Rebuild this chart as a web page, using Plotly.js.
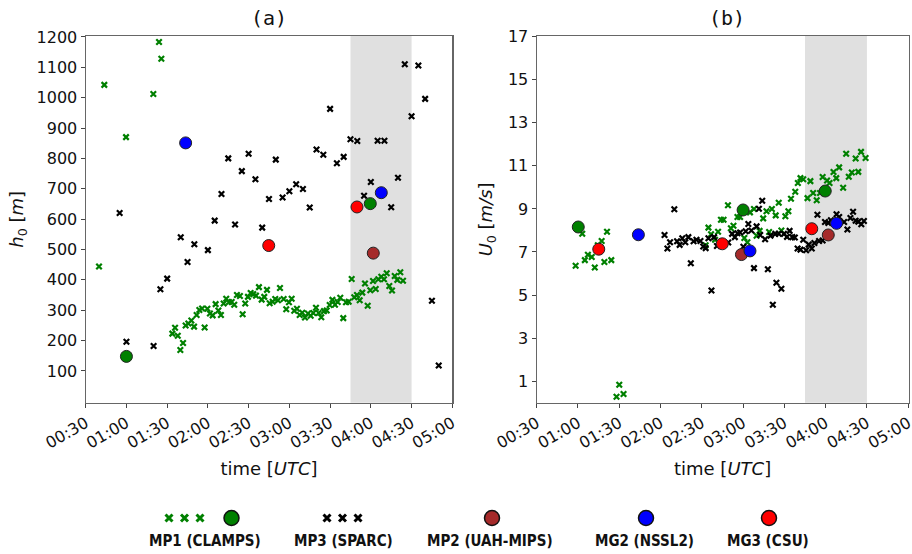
<!DOCTYPE html>
<html>
<head>
<meta charset="utf-8">
<script src="https://cdn.plot.ly/plotly-3.0.1.min.js"></script>
<style>html,body{margin:0;padding:0;background:#fff;}#chart{width:912px;height:554px;}</style>
</head>
<body>
<div id="chart"></div>
<script>
// ---------- axis ticks ----------
const tickMinutes = [30, 60, 90, 120, 150, 180, 210, 240, 270, 300];
const tickLabels = ['00:30','01:00','01:30','02:00','02:30','03:00','03:30','04:00','04:30','05:00'];
const hTicks = [100,200,300,400,500,600,700,800,900,1000,1100,1200];
const uTicks = [1,3,5,7,9,11,13,15,17];
const shadeStart = 225, shadeEnd = 270; // 03:45 - 04:30 (minutes after 00:00 UTC)

// ---------- panel (a): h0 [m] ; times in minutes after 00:00 UTC ----------
const mp1_h_t = [39.8,43.7,59.7,79.8,84,85.7,
  93.8,95.8,97.8,99.7,101.7,103.6,105.6,107.8,109.8,111.7,113.7,115.7,117.6,119.6,121.5,123.5,125.7,127.7,129.6,131.6,133.5,135.5,137.5,139.4,
  141.4,143.6,145.6,147.5,149.5,151.5,153.4,155.4,157.6,159.6,161.5,163.5,165.5,167.7,169.6,171.6,173.1,175.8,177.7,179.7,181.7,183.6,185.6,187.6,
  189.5,191.5,193.7,195.7,197.6,199.6,201.6,203.5,205.5,207.5,209.7,211.7,213.6,215.6,217.5,219.7,221.7,223.7,225.9,227.8,229.8,231.8,233.7,235.7,
  237.7,239.6,241.6,243.6,245.5,247.7,249.7,251.7,253.6,255.6,257.6,259.5,261.7,263.7];
const mp1_h = [444,1042,870,1012,1183,1128,
  223,242,216,169,192,250,256,266,246,284,301,306,243,305,289,283,320,299,284,322,338,327,327,318,
  350,347,287,322,344,357,353,348,376,335,344,367,323,328,337,333,373,337,303,326,338,298,305,284,
  292,276,289,282,291,308,291,277,297,299,317,334,318,327,341,274,326,328,403,343,350,333,358,388,
  315,366,396,370,402,410,402,422,380,365,413,400,425,397];

const mp3_h_t = [55,60,80,85,90,100,105,110,120,125,130,135,140,145,150,155,160,165,170,175,180,185,190,195,
  200,205,210,215,220,225,230,235,240,245,250,255,260,265,270,275,280,285,290];
const mp3_h = [620,196,182,369,404,540,459,517,498,595,683,800,582,758,815,731,572,666,796,671,692,715,699,638,
  829,812,963,784,805,863,857,677,722,858,858,639,736,1110,939,1106,996,331,118];

const mp1dot_h_t = [60, 239.6];   const mp1dot_h = [148, 651];
const mp2dot_h_t = [241.8];       const mp2dot_h = [488];
const mg2dot_h_t = [103.6, 247.7]; const mg2dot_h = [851, 687];
const mg3dot_h_t = [164.8, 229.8]; const mg3dot_h = [513, 640];

// ---------- panel (b): U0 [m/s] ----------
const mp1_u_t = [58.3,63.1,65,67.2,70,72.2,74.4,77.2,79.2,81.1,84.2,88,90,93.1,
  152.8,154.8,156.7,159.6,161.8,163.9,165.8,169,171.1,173,175.9,177.8,180.9,183.1,185,187.9,189.8,192,194.6,197,198.9,200.9,
  203.7,205.9,207.8,210.7,212.9,214.8,217.9,219.8,221.7,223.7,226.8,228.9,230.9,233.5,235.9,237.8,241,242.8,245.7,247.7,
  249.8,252.7,254.9,256.8,259,261.8,263.7,265.7,269];
const mp1_u = [6.36,7.85,6.62,6.87,6.77,6.28,7.31,7.51,6.53,7.94,6.62,0.28,0.83,0.4,
  7.31,8.13,7.82,7.57,7.94,8.5,8.5,9.17,8.1,8.22,8.62,8.62,7.65,7.45,8.84,9.0,7.75,7.98,8.56,8.89,7.93,9.0,
  8.7,9.29,8.0,8.66,8.89,9.47,9.8,10.2,10.43,10.38,9.5,10.29,9.74,9.4,9.74,10.48,10.32,10.2,10.71,10.43,
  10.93,9.98,11.56,10.49,10.69,11.34,10.72,11.65,11.36];

const mp3_u_t = [122.9,125,126.9,130,132,133.9,135.8,138,140.2,142,144,146.1,149,151,152.8,154.8,157,158.9,161,164.1,
  169.2,172,174,175.9,177.8,180.2,181.9,183.8,186,187.9,189.8,191.5,192.4,193.9,196,198,199.9,201.6,203.4,204.2,205.9,207.8,
  209.7,211.9,213.8,215.8,217.6,219.6,221.7,223.7,225.8,227.7,229.9,231.8,234,235.2,237.8,239.5,241.9,243.8,247.9,249.8,
  253.4,255.8,258,259.9,261.8,263.7,265.9,267.8];
const mp3_u = [7.79,7.16,7.45,8.98,7.5,7.33,7.64,7.45,7.69,6.48,7.5,7.57,7.51,7.25,7.18,7.64,5.21,7.69,7.28,7.34,
  7.44,7.84,7.69,7.87,7.9,7.24,7.96,8.3,8.0,6.25,8.19,9.01,7.79,9.38,7.59,6.2,7.76,4.55,7.84,5.57,7.85,5.29,
  7.84,7.7,7.98,7.69,7.67,7.16,7.11,7.57,7.08,7.34,7.16,7.42,8.73,7.51,7.53,8.39,8.35,8.47,8.75,8.62,
  8.39,8.04,8.58,8.87,8.45,8.41,8.29,8.44];

const mp1dot_u_t = [60.2, 180, 239.7];   const mp1dot_u = [8.16, 8.95, 9.83];
const mp2dot_u_t = [178.8, 241.9];       const mp2dot_u = [6.88, 7.79];
const mg2dot_u_t = [103.9, 185, 247.9];  const mg2dot_u = [7.8, 7.05, 8.33];
const mg3dot_u_t = [75.1, 164.9, 229.9]; const mg3dot_u = [7.13, 7.38, 8.08];

// ---------- legend ----------
const legendNames = ['MP1 (CLAMPS)', 'MP3 (SPARC)', 'MP2 (UAH-MIPS)', 'MG2 (NSSL2)', 'MG3 (CSU)'];

// ---------- styles ----------
const GREEN = '#008000', BLACK = '#000000', BROWN = '#a52a2a', BLUE = '#0000ff', RED = '#ff0000';
const xMark = c => ({symbol: 'x-thin', size: 5.5, color: c, line: {color: c, width: 2.2}});
const dot = c => ({symbol: 'circle', size: 12, color: c, line: {color: '#222', width: 1}});

function xs(t, y, c, xa, ya) { return {type: 'scatter', mode: 'markers', x: t, y: y, xaxis: xa, yaxis: ya, marker: xMark(c), showlegend: false, hoverinfo: 'skip'}; }
function ds(t, y, c, xa, ya) { return {type: 'scatter', mode: 'markers', x: t, y: y, xaxis: xa, yaxis: ya, marker: dot(c), showlegend: false, hoverinfo: 'skip', cliponaxis: false}; }

const data = [
  xs(mp1_h_t, mp1_h, GREEN, 'x', 'y'),
  xs(mp3_h_t, mp3_h, BLACK, 'x', 'y'),
  ds(mp1dot_h_t, mp1dot_h, GREEN, 'x', 'y'),
  ds(mp2dot_h_t, mp2dot_h, BROWN, 'x', 'y'),
  ds(mg2dot_h_t, mg2dot_h, BLUE, 'x', 'y'),
  ds(mg3dot_h_t, mg3dot_h, RED, 'x', 'y'),
  xs(mp1_u_t, mp1_u, GREEN, 'x2', 'y2'),
  xs(mp3_u_t, mp3_u, BLACK, 'x2', 'y2'),
  ds(mp1dot_u_t, mp1dot_u, GREEN, 'x2', 'y2'),
  ds(mp2dot_u_t, mp2dot_u, BROWN, 'x2', 'y2'),
  ds(mg2dot_u_t, mg2dot_u, BLUE, 'x2', 'y2'),
  ds(mg3dot_u_t, mg3dot_u, RED, 'x2', 'y2'),
];

// legend sample markers on a hidden pixel-space axis (x3/y3)
const legX = {mp1x: [169, 184.5, 200], mp1d: 231.5, mp3x: [327, 342.5, 358], mp2d: 492, mg2d: 646, mg3d: 769};
const legY = 518;
const legMarkX = c => ({symbol: 'x-thin', size: 7, color: c, line: {color: c, width: 3}});
const legDot = c => ({symbol: 'circle', size: 15, color: c, line: {color: '#111', width: 1.5}});
function lg(x, m) { return {type: 'scatter', mode: 'markers', x: x, y: x.map(() => legY), xaxis: 'x3', yaxis: 'y3', marker: m, showlegend: false, hoverinfo: 'skip', cliponaxis: false}; }
data.push(lg(legX.mp1x, legMarkX(GREEN)), lg([legX.mp1d], legDot(GREEN)), lg(legX.mp3x, legMarkX(BLACK)),
          lg([legX.mp2d], legDot(BROWN)), lg([legX.mg2d], legDot(BLUE)), lg([legX.mg3d], legDot(RED)));

const W = 912, H = 554;
const FONT = 'DejaVu Sans';
const axisCommon = {
  showgrid: false, zeroline: false, showline: true, mirror: true, linecolor: '#666', linewidth: 1.2,
  ticks: 'outside', ticklen: 4, tickwidth: 1, tickcolor: '#444', tickfont: {family: FONT, size: 16, color: '#111'},
  ticklabeloverflow: 'allow', automargin: false
};
const yDom = [1 - 402.7 / H, 1 - 36 / H];
const xAxisCfg = (dom, r1) => Object.assign({}, axisCommon, {
  domain: dom, range: [30, r1], tickmode: 'array', tickvals: tickMinutes, ticktext: tickLabels, tickangle: -30,
  title: {text: 'time [<i>UTC</i>]', font: {family: FONT, size: 18, color: '#111'}, standoff: 10}
});

const layout = {
  width: W, height: H, margin: {l: 0, r: 0, t: 0, b: 0}, paper_bgcolor: '#fff', plot_bgcolor: 'rgba(0,0,0,0)',
  showlegend: false,
  xaxis: xAxisCfg([85.7 / W, 452.3 / W], 300),
  xaxis2: Object.assign(xAxisCfg([536.7 / W, 908.5 / W], 300.2), {anchor: 'y2'}),
  yaxis: Object.assign({}, axisCommon, {domain: yDom, range: [-4.5, 1203], tickmode: 'array', tickvals: hTicks,
    title: {text: '<i>h</i><sub>0</sub> [<i>m</i>]', font: {family: FONT, size: 18, color: '#111'}, standoff: 8}}),
  yaxis2: Object.assign({}, axisCommon, {domain: yDom, anchor: 'x2', range: [0, 17.03], tickmode: 'array', tickvals: uTicks,
    title: {text: '<i>U</i><sub>0</sub> [<i>m/s</i>]', font: {family: FONT, size: 18, color: '#111'}, standoff: 10}}),
  xaxis3: {domain: [0, 1], range: [0, W], visible: false, fixedrange: true, anchor: 'y3'},
  yaxis3: {domain: [0, 1], range: [H, 0], visible: false, fixedrange: true, anchor: 'x3'},
  shapes: [
    {type: 'rect', xref: 'x', yref: 'y domain', x0: shadeStart, x1: shadeEnd, y0: 0, y1: 1, fillcolor: '#e0e0e0', line: {width: 0}, layer: 'below'},
    {type: 'rect', xref: 'x2', yref: 'y2 domain', x0: shadeStart, x1: shadeEnd, y0: 0, y1: 1, fillcolor: '#e0e0e0', line: {width: 0}, layer: 'below'}
  ],
  annotations: [
    {text: '(a)', xref: 'paper', yref: 'paper', x: 269 / W, y: 1 - 18 / H, xanchor: 'center', yanchor: 'middle', showarrow: false, font: {family: 'DejaVu Sans Mono', size: 20, color: '#111'}},
    {text: '(b)', xref: 'paper', yref: 'paper', x: 727 / W, y: 1 - 18 / H, xanchor: 'center', yanchor: 'middle', showarrow: false, font: {family: 'DejaVu Sans Mono', size: 20, color: '#111'}}
  ]
};
const legTextX = [205, 343, 490, 644, 768];
legendNames.forEach((n, i) => layout.annotations.push({
  text: '<b>' + n + '</b>', xref: 'paper', yref: 'paper', x: legTextX[i] / W, y: 1 - 541 / H, xanchor: 'center', yanchor: 'middle', showarrow: false,
  font: {family: 'DejaVu Sans Condensed, Liberation Sans Narrow, DejaVu Sans', size: 15, color: '#111'}
}));

Plotly.newPlot('chart', data, layout, {staticPlot: true, displayModeBar: false});
</script>
</body>
</html>
